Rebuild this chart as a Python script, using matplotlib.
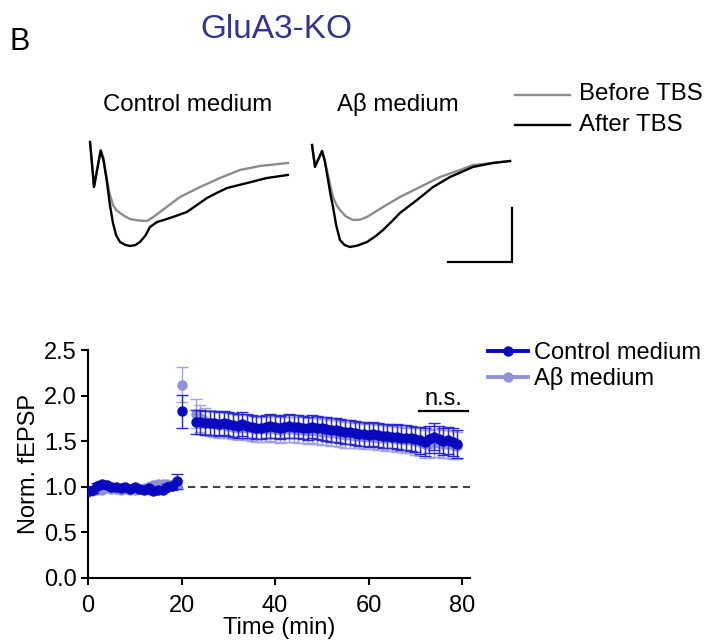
import matplotlib
matplotlib.use("Agg")
import matplotlib.pyplot as plt
from matplotlib.lines import Line2D
import numpy as np

plt.rcParams['font.family'] = ['Liberation Sans', 'DejaVu Sans']

# ---------------- data ----------------
# example traces (time in ms, amplitude in mV)
ctrl_after_t = [0.16, 0.47, 0.99, 1.2, 1.46, 1.7, 1.95, 2.2, 2.5, 2.9, 3.28, 3.7, 4.06, 4.5, 4.84, 5.39, 6.0, 6.64, 7.73, 8.5, 9.3, 10.1, 10.86, 12.42, 13.98, 15.62]
ctrl_after_v = [0.074, -0.343, -0.006, -0.09, -0.278, -0.5, -0.676, -0.79, -0.852, -0.878, -0.889, -0.88, -0.852, -0.79, -0.713, -0.667, -0.645, -0.62, -0.574, -0.51, -0.444, -0.395, -0.352, -0.306, -0.259, -0.231]
ctrl_before_t = [0.16, 0.47, 0.99, 1.2, 1.46, 1.7, 1.95, 2.2, 2.5, 2.9, 3.28, 3.9, 4.61, 5.1, 5.63, 6.4, 7.19, 8.75, 10.31, 11.88, 13.44, 15.62]
ctrl_before_v = [0.065, -0.333, 0.0, -0.07, -0.259, -0.41, -0.509, -0.555, -0.583, -0.615, -0.639, -0.652, -0.657, -0.62, -0.574, -0.505, -0.435, -0.343, -0.259, -0.185, -0.148, -0.12]
ab_after_t = [0.16, 0.39, 0.94, 1.15, 1.41, 1.6, 1.8, 2.05, 2.34, 2.7, 3.13, 3.7, 4.45, 5.1, 5.7, 6.4, 7.03, 8.36, 9.61, 10.94, 12.73, 14.3, 15.63]
ab_after_v = [0.046, -0.157, -0.009, -0.1, -0.278, -0.41, -0.528, -0.7, -0.833, -0.88, -0.898, -0.885, -0.852, -0.8, -0.741, -0.66, -0.583, -0.463, -0.343, -0.25, -0.157, -0.12, -0.102]
ab_before_t = [0.16, 0.39, 0.94, 1.15, 1.41, 1.6, 1.8, 2.05, 2.34, 2.8, 3.36, 3.9, 4.45, 5.7, 7.03, 8.59, 10.16, 11.72, 12.73, 14.3, 15.63]
ab_before_v = [0.046, -0.148, -0.009, -0.09, -0.231, -0.34, -0.435, -0.505, -0.556, -0.615, -0.648, -0.645, -0.62, -0.528, -0.435, -0.343, -0.25, -0.185, -0.139, -0.12, -0.102]
scale_ms = 5.0
scale_mv = 0.5

# time course
base_time = list(range(0, 20))
post_time = [20] + list(range(23, 80))

ctrl_base = [0.95, 0.96, 1.01, 1.03, 1.02, 1.00, 1.00, 0.99, 1.00, 0.98,
             1.00, 0.98, 0.97, 0.99, 0.95, 0.96, 0.97, 1.00, 1.01, 1.06]
ctrl_base_err = [0.04, 0.03, 0.03, 0.03, 0.02, 0.02, 0.02, 0.02, 0.02, 0.02,
                 0.02, 0.02, 0.02, 0.02, 0.03, 0.03, 0.03, 0.03, 0.04, 0.08]
ab_base = [0.94, 0.97, 0.97, 0.96, 0.99, 0.98, 0.98, 0.97, 0.98, 0.97,
           0.97, 0.98, 0.99, 1.00, 1.02, 1.03, 1.03, 1.03, 1.02, 1.03]
ab_base_err = [0.03, 0.03, 0.02, 0.02, 0.02, 0.02, 0.02, 0.02, 0.02, 0.02,
               0.02, 0.02, 0.02, 0.02, 0.03, 0.03, 0.03, 0.03, 0.03, 0.04]

ctrl_post = [1.83,
             1.71, 1.71, 1.70, 1.70, 1.70, 1.69, 1.70, 1.69, 1.68, 1.67,
             1.69, 1.67, 1.66, 1.65, 1.65, 1.66, 1.67, 1.66, 1.65, 1.66,
             1.67, 1.66, 1.66, 1.65, 1.64, 1.66, 1.65, 1.64, 1.63, 1.62,
             1.62, 1.61, 1.60, 1.60, 1.59, 1.58, 1.58, 1.57, 1.58, 1.57,
             1.56, 1.56, 1.55, 1.55, 1.54, 1.54, 1.53, 1.52, 1.51, 1.49,
             1.52, 1.55, 1.52, 1.50, 1.51, 1.49, 1.47]
ctrl_post_err = [0.18,
                 0.13, 0.13, 0.13, 0.13, 0.13, 0.13, 0.13, 0.13, 0.13, 0.13,
                 0.13, 0.13, 0.13, 0.13, 0.13, 0.13, 0.13, 0.13, 0.13, 0.13,
                 0.13, 0.13, 0.13, 0.13, 0.13, 0.13, 0.13, 0.13, 0.13, 0.13,
                 0.13, 0.13, 0.13, 0.13, 0.13, 0.13, 0.13, 0.13, 0.13, 0.13,
                 0.13, 0.13, 0.13, 0.14, 0.14, 0.14, 0.14, 0.14, 0.15, 0.15,
                 0.15, 0.15, 0.15, 0.15, 0.15, 0.15, 0.15]
ab_post = [2.12,
           1.80, 1.75, 1.72, 1.70, 1.69, 1.68, 1.68, 1.67, 1.66, 1.65,
           1.66, 1.65, 1.64, 1.63, 1.63, 1.63, 1.64, 1.63, 1.62, 1.63,
           1.63, 1.63, 1.62, 1.62, 1.61, 1.62, 1.61, 1.60, 1.60, 1.59,
           1.59, 1.58, 1.57, 1.57, 1.56, 1.56, 1.55, 1.55, 1.55, 1.54,
           1.54, 1.53, 1.53, 1.52, 1.52, 1.51, 1.51, 1.50, 1.49, 1.47,
           1.47, 1.48, 1.48, 1.47, 1.47, 1.46, 1.45]
ab_post_err = [0.19,
               0.16, 0.15, 0.14, 0.14, 0.14, 0.14, 0.14, 0.14, 0.14, 0.14,
               0.14, 0.14, 0.14, 0.14, 0.14, 0.14, 0.14, 0.14, 0.14, 0.14,
               0.14, 0.14, 0.14, 0.14, 0.14, 0.14, 0.14, 0.14, 0.14, 0.14,
               0.14, 0.14, 0.14, 0.14, 0.14, 0.14, 0.14, 0.14, 0.14, 0.14,
               0.14, 0.14, 0.14, 0.14, 0.14, 0.14, 0.14, 0.15, 0.15, 0.15,
               0.15, 0.15, 0.15, 0.15, 0.15, 0.15, 0.15]

yticks = [0.0, 0.5, 1.0, 1.5, 2.0, 2.5]
xticks = [0, 20, 40, 60, 80]

CTRL = '#0808c0'
AB = '#9191d6'
AB_ERR = '#a3a3e2'
GRAY = '#8c8c8c'

W, H = 709, 643
fig = plt.figure(figsize=(W / 100, H / 100), dpi=100)


def fx(px):
    return px / W


def fy(py):
    return 1 - py / H

# ---------------- header text ----------------
fig.text(fx(10), fy(42), 'B', fontsize=22, va='center', ha='left')
fig.text(fx(276), fy(30), 'GluA3-KO', fontsize=24, color='#34348a', va='center', ha='center')
fig.text(fx(188), fy(105), 'Control medium', fontsize=17.3, va='center', ha='center')
fig.text(fx(398), fy(105), 'A\u03b2 medium', fontsize=17.3, va='center', ha='center')

# ---------------- example traces ----------------
pxms = 12.8
pxmv = 108.0
v_lo, v_hi = -1.1, 0.15
top_px = 150 - v_hi * pxmv
h_px = (v_hi - v_lo) * pxmv

axc = fig.add_axes([fx(88), fy(top_px + h_px), 16 * pxms / W, h_px / H])
axc.plot(ctrl_before_t, ctrl_before_v, color=GRAY, lw=1.7)
axc.plot(ctrl_after_t, ctrl_after_v, color='black', lw=1.7)
axc.set_xlim(0, 16)
axc.set_ylim(v_lo, v_hi)
axc.axis('off')

axa = fig.add_axes([fx(310), fy(top_px + h_px), 16.5 * pxms / W, h_px / H])
axa.plot(ab_before_t, ab_before_v, color=GRAY, lw=1.7)
axa.plot(ab_after_t, ab_after_v, color='black', lw=1.7)
sb_x1 = 15.78
sb_y0 = -1.037
axa.plot([sb_x1 - scale_ms, sb_x1, sb_x1], [sb_y0, sb_y0, sb_y0 + scale_mv],
         color='black', lw=1.6, solid_joinstyle='miter')
axa.set_xlim(0, 16.5)
axa.set_ylim(v_lo, v_hi)
axa.axis('off')

# trace legend
fig.add_artist(Line2D([fx(515), fx(570)], [fy(95), fy(95)], color=GRAY, lw=1.7))
fig.add_artist(Line2D([fx(515), fx(570)], [fy(125), fy(125)], color='black', lw=1.7))
fig.text(fx(579), fy(94), 'Before TBS', fontsize=17.3, va='center', ha='left')
fig.text(fx(579), fy(125), 'After TBS', fontsize=17.3, va='center', ha='left')

# ---------------- time course ----------------
ax = fig.add_axes([fx(88), fy(578), (470 - 88) / W, (578 - 350) / H])
ax.axhline(1.0, color='#444444', lw=1.5, ls=(0, (3.5, 2.5)), zorder=1)

kw = dict(fmt='o-', ms=6.5, lw=2.8, elinewidth=1.0, capsize=4, capthick=1.0)
ax.errorbar(base_time, ab_base, yerr=ab_base_err, color=AB, ecolor=AB_ERR, zorder=2, **kw)
ax.errorbar(post_time[1:], ab_post[1:], yerr=ab_post_err[1:], color=AB, ecolor=AB_ERR, zorder=2, **kw)
ax.errorbar(post_time[:1], ab_post[:1], yerr=ab_post_err[:1], color=AB, ecolor=AB_ERR, zorder=2, **kw)
ax.errorbar(base_time, ctrl_base, yerr=ctrl_base_err, color=CTRL, ecolor='#2a2ad0', zorder=3, **kw)
ax.errorbar(post_time[1:], ctrl_post[1:], yerr=ctrl_post_err[1:], color=CTRL, ecolor='#2a2ad0', zorder=3, **kw)
ax.errorbar(post_time[:1], ctrl_post[:1], yerr=ctrl_post_err[:1], color=CTRL, ecolor='#2a2ad0', zorder=3, **kw)

ax.set_xlim(0, 81.7)
ax.set_ylim(0, 2.5)
ax.set_xticks(xticks)
ax.set_yticks(yticks)
ax.set_yticklabels([f'{v:.1f}' for v in yticks])
ax.spines['top'].set_visible(False)
ax.spines['right'].set_visible(False)
for s in ('left', 'bottom'):
    ax.spines[s].set_linewidth(1.5)
ax.tick_params(axis='x', direction='out', length=5, width=1.5, labelsize=17, pad=7)
ax.tick_params(axis='y', direction='out', length=5, width=1.5, labelsize=17, pad=3)
ax.set_xlabel('Time (min)', fontsize=17, labelpad=0)
ax.set_ylabel('Norm. fEPSP', fontsize=17, labelpad=3)

# n.s. annotation
ax.plot([70.8, 81.3], [1.83, 1.83], color='black', lw=1.6, clip_on=False)
ax.text(76.0, 1.845, 'n.s.', fontsize=17, ha='center', va='bottom')

handles = [Line2D([], [], color=CTRL, marker='o', ms=6.5, lw=2.8),
           Line2D([], [], color=AB, marker='o', ms=6.5, lw=2.8)]
fig.legend(handles, ['Control medium', 'A\u03b2 medium'], loc='upper left',
           bbox_to_anchor=(fx(488), fy(342)), frameon=False, fontsize=17,
           handlelength=1.7, handletextpad=0.25, labelspacing=0.12, borderpad=0,
           borderaxespad=0)

fig.savefig('out.png', dpi=100)
